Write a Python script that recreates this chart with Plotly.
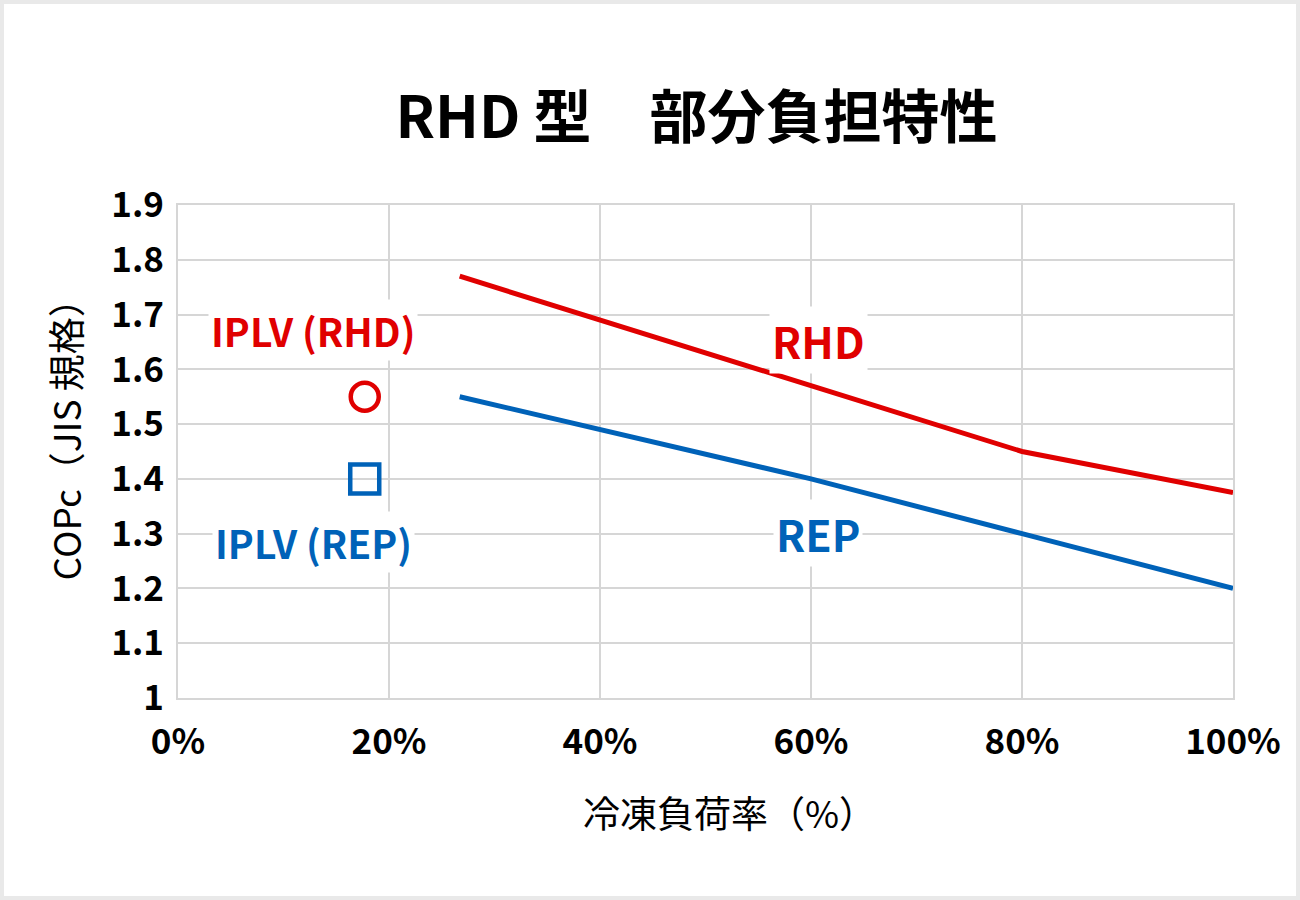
import plotly.graph_objects as go

# data
load_pct = [26.7, 60, 80, 100]
rhd_cop = [1.77, 1.57, 1.45, 1.375]
rep_cop = [1.55, 1.40, 1.30, 1.20]

iplv_load = [17.7]
iplv_rhd = [1.55]
iplv_rep = [1.40]

x_ticks = [0, 20, 40, 60, 80, 100]
x_ticktext = ["0%", "20%", "40%", "60%", "80%", "100%"]
y_ticks = [1.0, 1.1, 1.2, 1.3, 1.4, 1.5, 1.6, 1.7, 1.8, 1.9]
y_ticktext = ["1", "1.1", "1.2", "1.3", "1.4", "1.5", "1.6", "1.7", "1.8", "1.9"]

RED = "#e00000"
BLUE = "#0062b8"
GRID = "#d6d6d6"
FONT = "Noto Sans CJK JP"

fig = go.Figure()
fig.add_trace(go.Scatter(x=load_pct, y=rhd_cop, mode="lines", name="RHD",
                         line=dict(color=RED, width=5)))
fig.add_trace(go.Scatter(x=load_pct, y=rep_cop, mode="lines", name="REP",
                         line=dict(color=BLUE, width=5)))
fig.add_trace(go.Scatter(x=iplv_load, y=iplv_rhd, mode="markers", name="IPLV (RHD)",
                         marker=dict(symbol="circle-open", size=28, color=RED,
                                     line=dict(color=RED, width=4.5))))
fig.add_trace(go.Scatter(x=iplv_load, y=iplv_rep, mode="markers", name="IPLV (REP)",
                         marker=dict(symbol="square-open", size=29, color=BLUE,
                                     line=dict(color=BLUE, width=4.5))))

# labels with white boxes (they hide the grid behind them)
labels = [
    ("IPLV (RHD)", 12.8, 1.672, RED, 39),
    ("IPLV (REP)", 12.8, 1.284, BLUE, 39),
    ("RHD", 60.7, 1.653, RED, 43),
    ("REP", 60.7, 1.302, BLUE, 43),
]
for text, lx, ly, col, fs in labels:
    fig.add_annotation(x=lx, y=ly, text=text, showarrow=False,
                       bgcolor="white", borderpad=2,
                       font=dict(family=FONT, size=fs, color=col, weight="bold"))

# axis titles placed as in the original (slightly off-centre)
fig.add_annotation(xref="paper", yref="paper", x=0.523, y=-0.231,
                   xanchor="center", yanchor="middle",
                   text="冷凍負荷率（%）", showarrow=False,
                   font=dict(family=FONT, size=37, color="black"))
fig.add_annotation(xref="paper", yref="paper", x=-0.107, y=0.543,
                   xanchor="center", yanchor="middle",
                   text="COPc（JIS 規格）", showarrow=False, textangle=-90,
                   font=dict(family=FONT, size=37, color="black"))

# grey frame around the whole picture
fig.add_shape(type="rect", xref="paper", yref="paper",
              x0=-174 / 1055, x1=1 + 63 / 1055,
              y0=-198 / 493, y1=1 + 201 / 493,
              fillcolor="white", line=dict(width=0), layer="below")

fig.update_xaxes(range=[0, 100], tickvals=x_ticks, ticktext=x_ticktext,
                 showgrid=True, gridcolor=GRID, gridwidth=2,
                 showline=True, linecolor=GRID, linewidth=2, mirror=True,
                 zeroline=False, ticklabelstandoff=12,
                 tickfont=dict(family=FONT, size=35, color="black", weight="bold"))
fig.update_yaxes(range=[1.0, 1.9], tickvals=y_ticks, ticktext=y_ticktext,
                 showgrid=True, gridcolor=GRID, gridwidth=2,
                 showline=True, linecolor=GRID, linewidth=2, mirror=True,
                 zeroline=False, ticklabelstandoff=5,
                 tickfont=dict(family=FONT, size=35, color="black", weight="bold"))

fig.update_layout(
    width=1300, height=900,
    margin=dict(l=178, r=67, t=205, b=202),
    paper_bgcolor="#e9e9e9", plot_bgcolor="white",
    showlegend=False,
    title=dict(text="RHD 型　部分負担特性", x=696.5 / 1300, xanchor="center",
               y=1 - 118 / 900, yanchor="middle",
               font=dict(family=FONT, size=58, color="black", weight="bold")),
)

fig.write_html("out.html", config={"displayModeBar": False},
               post_script="document.body.style.margin='0px';")
